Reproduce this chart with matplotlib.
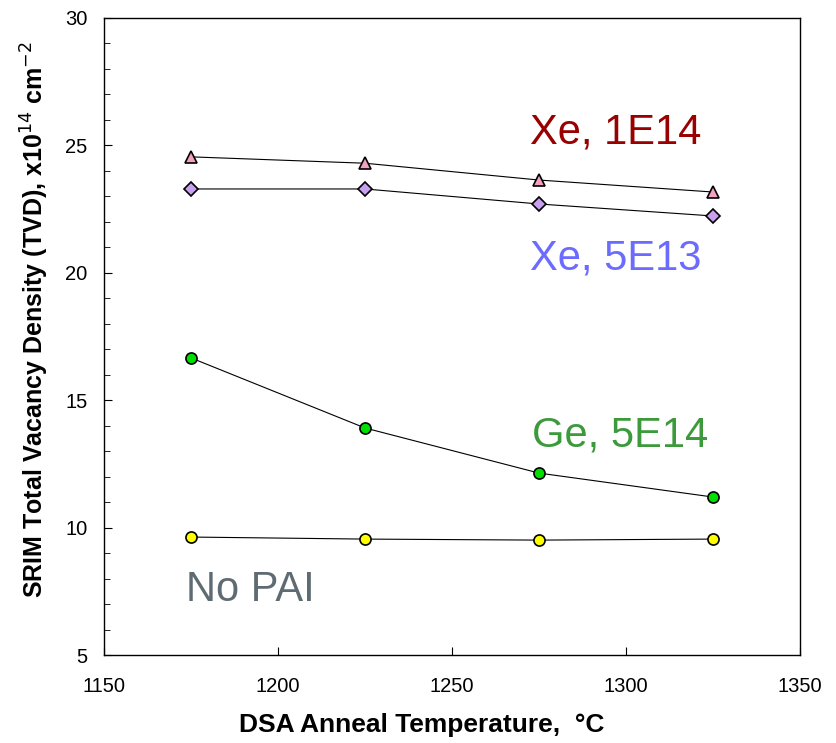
import matplotlib
matplotlib.use("Agg")
import matplotlib.pyplot as plt
from matplotlib.ticker import MultipleLocator

plt.rcParams['font.family'] = ['Liberation Sans', 'DejaVu Sans']

temps = [1175, 1225, 1275, 1325]
xe_1e14 = [24.55, 24.3, 23.64, 23.17]
xe_5e13 = [23.29, 23.29, 22.7, 22.23]
ge_5e14 = [16.66, 13.91, 12.14, 11.2]
no_pai = [9.63, 9.55, 9.51, 9.55]

fig = plt.figure(figsize=(8.36, 7.43), dpi=100)
ax = fig.add_axes([0.1244, 0.1184, 0.8326, 0.8574])

lw = 0.8
ax.plot(temps, xe_1e14, color='black', lw=lw, marker='^', ms=8, mfc='#F4A0C0', mec='black', mew=1.2)
ax.plot(temps, xe_5e13, color='black', lw=lw, marker='D', ms=7.5, mfc='#C8A0F0', mec='black', mew=1.2)
ax.plot(temps, ge_5e14, color='black', lw=lw, marker='o', ms=8, mfc='#00E000', mec='black', mew=1.2)
ax.plot(temps, no_pai, color='black', lw=lw, marker='o', ms=8, mfc='#FFFF00', mec='black', mew=1.2)

ax.set_xlim(1150, 1350)
ax.set_ylim(5, 30)
ax.xaxis.set_major_locator(MultipleLocator(50))
ax.yaxis.set_major_locator(MultipleLocator(5))
ax.yaxis.set_minor_locator(MultipleLocator(1))
ax.tick_params(axis='both', which='both', direction='in', top=False, right=False, labelsize=14.5)
ax.tick_params(axis='x', which='major', length=6, pad=16)
ax.tick_params(axis='y', which='major', length=6, pad=12)
ax.tick_params(axis='y', which='minor', length=4)
for s in ax.spines.values():
    s.set_linewidth(1.0)

ax.set_xlabel('DSA Anneal Temperature,  °C', fontsize=19, fontweight='bold')
ax.set_ylabel('SRIM Total Vacancy Density (TVD), x10$^{14}$ cm$^{-2}$', fontsize=18, fontweight='bold')
ax.xaxis.set_label_coords(0.457, -0.11)
ax.yaxis.set_label_coords(-0.099, 0.526)
ax.xaxis.label.set_va('center')
ax.yaxis.label.set_va('center')

ax.text(1272.4, 25.49, 'Xe, 1E14', color='#990000', fontsize=30, ha='left', va='center')
ax.text(1272.4, 20.58, 'Xe, 5E13', color='#6B6BFF', fontsize=30, ha='left', va='center')
ax.text(1273, 13.63, 'Ge, 5E14', color='#3C9A3C', fontsize=30, ha='left', va='center')
ax.text(1173.5, 7.55, 'No PAI', color='#5F6B73', fontsize=30, ha='left', va='center')

fig.savefig('out.png', dpi=100)
